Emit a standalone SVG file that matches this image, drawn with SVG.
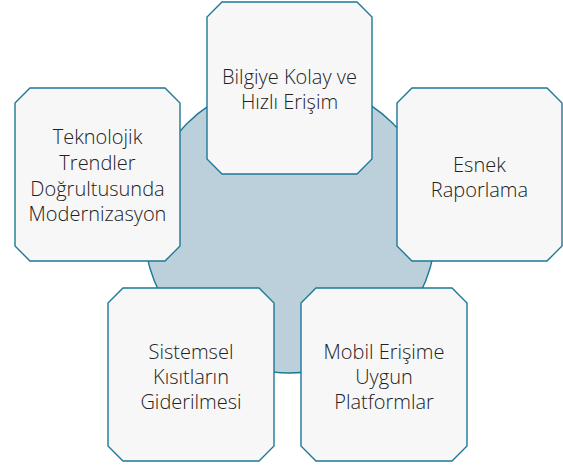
<svg xmlns="http://www.w3.org/2000/svg" width="563" height="466" viewBox="0 0 563 466">
<style>
.box{fill:#f7f7f7;stroke:#1d7896;stroke-width:1.4}
.hub{fill:#bcd0db;stroke:#1d7896;stroke-width:1.4}
text{font-family:"Open Sans","Noto Sans","DejaVu Sans",sans-serif;font-size:20px;font-weight:300;fill:#222222;text-anchor:middle}
</style>
<rect width="563" height="466" fill="#ffffff"/>
<g id="hub"><circle class="hub" cx="290" cy="227" r="146"/></g>
<g id="connectors"></g>
<g id="n1">
<path class="box" d="M222,2 H357 L372,17 V159 L357,174 H222 L207,159 V17 Z"/>
<text x="289.5" y="83.5">Bilgiye Kolay ve</text>
<text x="289.5" y="109">Hızlı Erişim</text>
</g>
<g id="n2">
<path class="box" d="M412,88 H547 L562,103 V246 L547,261 H412 L397,246 V103 Z"/>
<text x="479.5" y="171.5">Esnek</text>
<text x="479.5" y="196.5">Raporlama</text>
</g>
<g id="n3">
<path class="box" d="M316,288 H452 L467,303 V446 L452,461 H316 L301,446 V303 Z"/>
<text x="384" y="358.5">Mobil Erişime</text>
<text x="384" y="383.5">Uygun</text>
<text x="384" y="408.5">Platformlar</text>
</g>
<g id="n4">
<path class="box" d="M123,288 H259 L274,303 V446 L259,461 H123 L108,446 V303 Z"/>
<text x="191" y="358.5">Sistemsel</text>
<text x="191" y="383.5">Kısıtların</text>
<text x="191" y="408.5">Giderilmesi</text>
</g>
<g id="n5">
<path class="box" d="M30,88 H165 L180,103 V246 L165,261 H30 L15,246 V103 Z"/>
<text x="97.5" y="144">Teknolojik</text>
<text x="97.5" y="170">Trendler</text>
<text x="97.5" y="195.5">Doğrultusunda</text>
<text x="97.5" y="221">Modernizasyon</text>
</g>
</svg>
